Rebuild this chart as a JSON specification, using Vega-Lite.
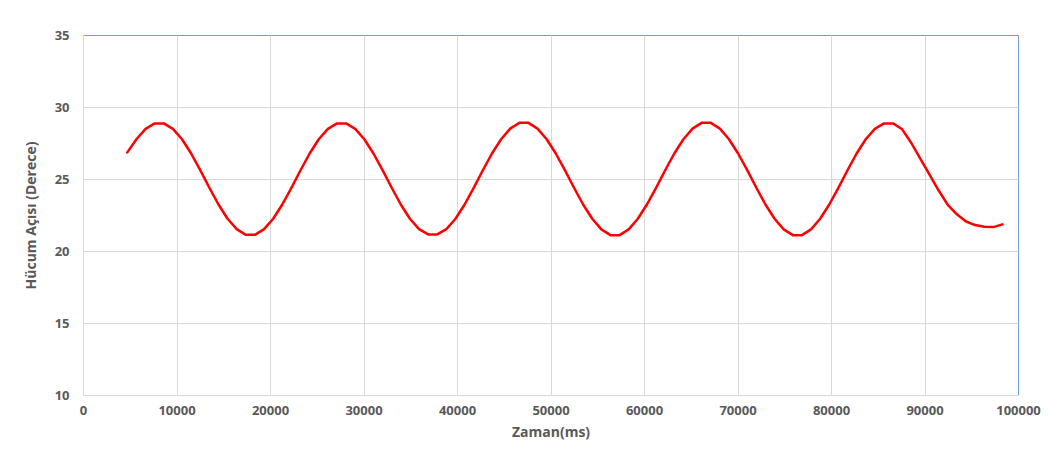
{
  "$schema": "https://vega.github.io/schema/vega-lite/v6.json",
  "width": 935,
  "height": 360,
  "autosize": {"type": "none"},
  "padding": {"left": 83, "top": 35, "right": 46, "bottom": 57},
  "background": "white",
  "config": {
    "view": {"stroke": "#6f9bd6", "strokeWidth": 1},
    "font": "Open Sans"
  },
  "data": {
    "values": [
      {"t": 4740, "angle": 26.85}, {"t": 5715, "angle": 27.76}, {"t": 6690, "angle": 28.48}, {"t": 7665, "angle": 28.86}, {"t": 8640, "angle": 28.86},
      {"t": 9615, "angle": 28.48}, {"t": 10590, "angle": 27.76}, {"t": 11565, "angle": 26.77}, {"t": 12540, "angle": 25.61}, {"t": 13515, "angle": 24.39},
      {"t": 14490, "angle": 23.23}, {"t": 15465, "angle": 22.24}, {"t": 16440, "angle": 21.52}, {"t": 17415, "angle": 21.12}, {"t": 18390, "angle": 21.12},
      {"t": 19365, "angle": 21.52}, {"t": 20340, "angle": 22.24}, {"t": 21315, "angle": 23.23}, {"t": 22290, "angle": 24.39}, {"t": 23265, "angle": 25.61},
      {"t": 24240, "angle": 26.77}, {"t": 25215, "angle": 27.76}, {"t": 26190, "angle": 28.48}, {"t": 27165, "angle": 28.86}, {"t": 28140, "angle": 28.86},
      {"t": 29115, "angle": 28.48}, {"t": 30090, "angle": 27.76}, {"t": 31065, "angle": 26.77}, {"t": 32040, "angle": 25.61}, {"t": 33015, "angle": 24.39},
      {"t": 33990, "angle": 23.23}, {"t": 34965, "angle": 22.24}, {"t": 35940, "angle": 21.52}, {"t": 36915, "angle": 21.15}, {"t": 37890, "angle": 21.15},
      {"t": 38865, "angle": 21.52}, {"t": 39840, "angle": 22.24}, {"t": 40815, "angle": 23.23}, {"t": 41790, "angle": 24.39}, {"t": 42765, "angle": 25.61},
      {"t": 43740, "angle": 26.77}, {"t": 44715, "angle": 27.76}, {"t": 45690, "angle": 28.5}, {"t": 46665, "angle": 28.9}, {"t": 47640, "angle": 28.9},
      {"t": 48615, "angle": 28.5}, {"t": 49590, "angle": 27.76}, {"t": 50565, "angle": 26.77}, {"t": 51540, "angle": 25.61}, {"t": 52515, "angle": 24.39},
      {"t": 53490, "angle": 23.23}, {"t": 54465, "angle": 22.24}, {"t": 55440, "angle": 21.5}, {"t": 56415, "angle": 21.1}, {"t": 57390, "angle": 21.1},
      {"t": 58365, "angle": 21.5}, {"t": 59340, "angle": 22.24}, {"t": 60315, "angle": 23.23}, {"t": 61290, "angle": 24.39}, {"t": 62265, "angle": 25.61},
      {"t": 63240, "angle": 26.77}, {"t": 64215, "angle": 27.76}, {"t": 65190, "angle": 28.5}, {"t": 66165, "angle": 28.9}, {"t": 67140, "angle": 28.9},
      {"t": 68115, "angle": 28.5}, {"t": 69090, "angle": 27.76}, {"t": 70065, "angle": 26.77}, {"t": 71040, "angle": 25.61}, {"t": 72015, "angle": 24.39},
      {"t": 72990, "angle": 23.23}, {"t": 73965, "angle": 22.24}, {"t": 74940, "angle": 21.5}, {"t": 75915, "angle": 21.1}, {"t": 76890, "angle": 21.1},
      {"t": 77865, "angle": 21.5}, {"t": 78840, "angle": 22.24}, {"t": 79815, "angle": 23.23}, {"t": 80790, "angle": 24.39}, {"t": 81765, "angle": 25.61},
      {"t": 82740, "angle": 26.77}, {"t": 83715, "angle": 27.76}, {"t": 84690, "angle": 28.48}, {"t": 85665, "angle": 28.86}, {"t": 86640, "angle": 28.86},
      {"t": 87615, "angle": 28.45}, {"t": 88590, "angle": 27.5}, {"t": 89565, "angle": 26.4}, {"t": 90540, "angle": 25.3}, {"t": 91515, "angle": 24.2},
      {"t": 92490, "angle": 23.2}, {"t": 93465, "angle": 22.55}, {"t": 94440, "angle": 22.05}, {"t": 95415, "angle": 21.8}, {"t": 96390, "angle": 21.68},
      {"t": 97365, "angle": 21.66}, {"t": 98340, "angle": 21.85}
    ]
  },
  "mark": {"type": "line", "color": "#ff0000", "strokeWidth": 2.5, "strokeJoin": "round", "strokeCap": "round"},
  "encoding": {
    "x": {
      "field": "t",
      "type": "quantitative",
      "scale": {"domain": [0, 100000], "nice": false},
      "axis": {
        "title": "Zaman(ms)",
        "values": [0, 10000, 20000, 30000, 40000, 50000, 60000, 70000, 80000, 90000, 100000],
        "format": "d",
        "labelFont": "Open Sans",
        "labelFontSize": 13,
        "labelFontWeight": "bold",
        "labelColor": "#595959",
        "labelPadding": 9,
        "labelFlush": false,
        "ticks": false,
        "domainColor": "#d9d9d9",
        "domainWidth": 1,
        "gridColor": {"condition": {"test": "datum.value == 100000", "value": "transparent"}, "value": "#d9d9d9"},
        "gridWidth": 1,
        "titleFont": "Open Sans",
        "titleFontSize": 14,
        "titleFontWeight": "bold",
        "titleColor": "#595959",
        "titlePadding": 8
      }
    },
    "y": {
      "field": "angle",
      "type": "quantitative",
      "scale": {"domain": [10, 35], "nice": false, "zero": false},
      "axis": {
        "title": "Hücum Açısı (Derece)",
        "values": [10, 15, 20, 25, 30, 35],
        "labelFont": "Open Sans",
        "labelFontSize": 13,
        "labelFontWeight": "bold",
        "labelColor": "#595959",
        "labelPadding": 14,
        "ticks": false,
        "domainColor": "#d9d9d9",
        "domainWidth": 1,
        "gridColor": {"condition": {"test": "datum.value == 35", "value": "transparent"}, "value": "#d9d9d9"},
        "gridWidth": 1,
        "titleFont": "Open Sans",
        "titleFontSize": 14,
        "titleFontWeight": "bold",
        "titleColor": "#595959",
        "titlePadding": 16
      }
    }
  }
}
